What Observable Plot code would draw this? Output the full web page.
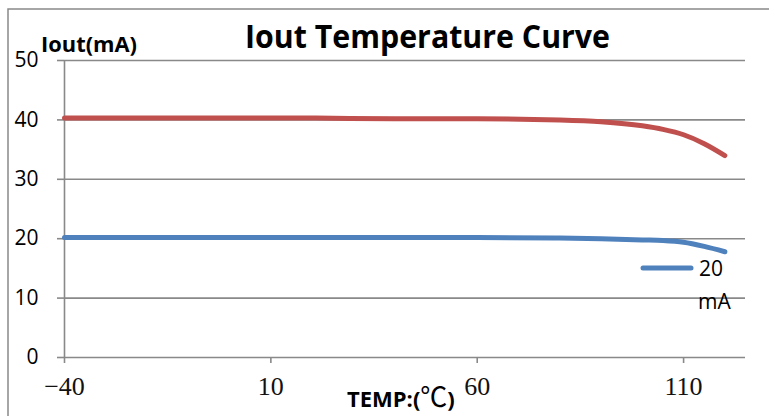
<!DOCTYPE html>
<html><head><meta charset="utf-8">
<script src="https://cdn.jsdelivr.net/npm/d3@7"></script>
<script src="https://cdn.jsdelivr.net/npm/@observablehq/plot@0.6"></script>
<style>
body{margin:0;background:#fff;}
#chart{width:769px;height:416px;}
</style></head><body><div id="chart"></div>
<script>
const temps  = [-40, -20, 0, 20, 40, 60, 80, 90, 100, 105, 110, 115, 120];
const iout40 = [40.3, 40.3, 40.3, 40.3, 40.2, 40.2, 40.0, 39.7, 39.0, 38.4, 37.5, 36.0, 34.0];
const iout20 = [20.2, 20.2, 20.2, 20.2, 20.2, 20.2, 20.1, 20.0, 19.8, 19.7, 19.4, 18.7, 17.8];
const xTicks = [-40, 10, 60, 110];
const yTicks = [0, 10, 20, 30, 40, 50];
const title = "Iout Temperature Curve";
const yLabel = "Iout(mA)";
const xLabelMain = "TEMP:(";
const xLabelUnit = "℃";
const xLabelEnd = ")";
const legendLines = ["20", "mA"];

const red = "#C0504D", blue = "#4F81BD", grid = "#898989";
const sans = "'Open Sans', 'Liberation Sans', sans-serif";
const serif = "'Liberation Serif', 'DejaVu Serif', serif";

const rows40 = temps.map((t, i) => ({t, v: iout40[i]}));
const rows20 = temps.map((t, i) => ({t, v: iout20[i]}));

const W = 769, H = 416;
const plot = Plot.plot({
  width: W, height: H,
  marginLeft: 64, marginRight: 24, marginTop: 60, marginBottom: 59,
  x: {domain: [-40, 125]},
  y: {domain: [0, 50]},
  style: {background: "#fff", overflow: "visible"},
  marks: [
    Plot.ruleY(yTicks.filter(d => d > 0), {stroke: grid, strokeWidth: 1.6}),
    Plot.ruleX([-40], {y1: 0, y2: 50, stroke: grid, strokeWidth: 1.6}),
    Plot.ruleY([0], {stroke: grid, strokeWidth: 1.6}),
    Plot.axisX({ticks: xTicks, tickSize: 6, tickPadding: 13, stroke: grid, strokeWidth: 1.6,
      fontSize: 26, fontFamily: serif, fill: "#111", label: null}),
    Plot.axisY({ticks: yTicks, tickSize: 7, tickPadding: 19, stroke: grid, strokeWidth: 1.6,
      fontSize: 21, fontFamily: sans, fill: "#000", label: null}),
    Plot.lineY(rows40, {x: "t", y: "v", stroke: red, strokeWidth: 5, curve: "monotone-x", strokeLinecap: "round"}),
    Plot.lineY(rows20, {x: "t", y: "v", stroke: blue, strokeWidth: 5, curve: "monotone-x", strokeLinecap: "round"})
  ]
});
document.getElementById("chart").appendChild(plot);

const svg = d3.select(plot);
const addText = (txt, x, y, size, weight, anchor = "start", len = null) => {
  const t = svg.append("text").text(txt).attr("x", x).attr("y", y).attr("text-anchor", anchor)
    .attr("font-family", sans).attr("font-weight", weight).attr("font-size", size).attr("fill", "#000");
  if (len) t.attr("textLength", len).attr("lengthAdjust", "spacingAndGlyphs");
  return t;
};
// outer chart border (top and left visible)
svg.append("path").attr("d", `M8,${H} L8,9 L${W},9`).attr("fill", "none").attr("stroke", grid).attr("stroke-width", 1.5);
addText(title, 245, 48, 32, "bold", "start", 365);
addText(yLabel, 41, 52, 22, "bold", "start", 96);
const xl = svg.append("text").attr("x", 347).attr("y", 407).attr("text-anchor", "start")
  .attr("font-family", sans).attr("font-weight", "bold").attr("font-size", 22).attr("fill", "#000");
xl.append("tspan").text(xLabelMain);
xl.append("tspan").text(xLabelUnit).attr("font-family", "'Noto Sans CJK SC', sans-serif").attr("font-weight", "normal").attr("font-size", 27);
xl.append("tspan").text(xLabelEnd);
// legend
svg.append("line").attr("x1", 643).attr("x2", 691).attr("y1", 268).attr("y2", 268)
  .attr("stroke", blue).attr("stroke-width", 5).attr("stroke-linecap", "round");
addText(legendLines[0], 699, 276, 21, "normal");
addText(legendLines[1], 698, 309, 21, "normal");
</script></body></html>
